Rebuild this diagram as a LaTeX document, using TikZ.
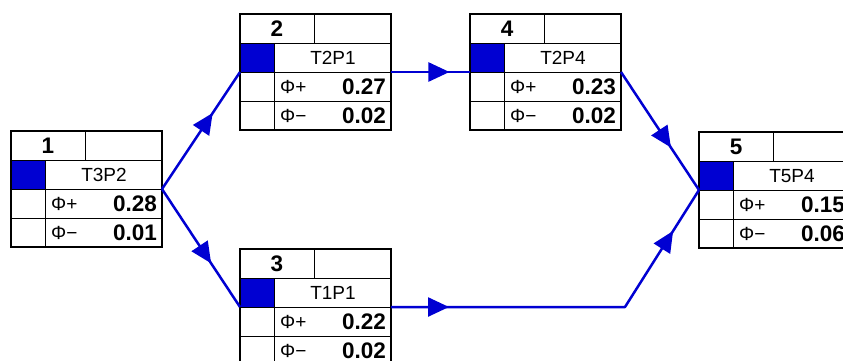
\documentclass[tikz,border=0pt]{standalone}
\usepackage{fontspec}
\setmainfont{Liberation Sans}
\usetikzlibrary{arrows.meta,decorations.markings}
\definecolor{flowblue}{RGB}{0,0,210}
\tikzset{
  taskframe/.style={draw=black, fill=white, line width=1.2pt, minimum width=151pt, minimum height=116pt, inner sep=0pt, outer sep=0pt},
  gridline/.style={draw=black, line width=0.9pt},
  numtext/.style={font=\fontsize{22.5}{22.5}\selectfont\bfseries, inner sep=0pt},
  labtext/.style={font=\fontsize{19}{19}\selectfont, inner sep=0pt},
  flow/.style={draw=flowblue, line width=2.5pt, line join=round},
  tipat/.style={postaction={decorate}, decoration={markings, mark=at position #1 with {\arrow[flowblue]{Triangle[length=21pt,width=19pt]}}}},
}
\newcommand\taskbox[7]{%
  \begin{scope}[shift={(#2,#3)}]
    \node[taskframe, anchor=north west] (#1) at (0,0) {};
    \fill[flowblue] (0,29) rectangle (34,58);
    \draw[gridline] (0,29) -- (151,29) (0,58) -- (151,58) (0,87) -- (151,87)
      (74,0) -- (74,29) (34,29) -- (34,116);
    \draw[black, line width=1.2pt] (#1.north west) rectangle (#1.south east);
    \node[numtext, anchor=base] (#1-num) at (37,22.6) {#4};
    \node[labtext, anchor=base] (#1-lab) at (93,50.3) {#5};
    \node[labtext, anchor=base west] (#1-pl) at (40,79.3) {Φ+};
    \node[numtext, anchor=base east] (#1-pv) at (146,80.6) {#6};
    \node[labtext, anchor=base west] (#1-ml) at (40,108.3) {Φ−};
    \node[numtext, anchor=base east] (#1-mv) at (146,109.6) {#7};
  \end{scope}}
\begin{document}
\begin{tikzpicture}[x=1pt,y=-1pt]
  \useasboundingbox (0,0) rectangle (843,360);
  \clip (0,0) rectangle (843,360);
  \fill[white] (0,0) rectangle (843,360);
  \taskbox{n1}{11}{131}{1}{T3P2}{0.28}{0.01}
  \taskbox{n2}{240}{14}{2}{T2P1}{0.27}{0.02}
  \taskbox{n3}{240}{249}{3}{T1P1}{0.22}{0.02}
  \taskbox{n4}{470}{14}{4}{T2P4}{0.23}{0.02}
  \taskbox{n5}{699}{132}{5}{T5P4}{0.15}{0.06}
  \coordinate (bend) at (625,307);
  \draw[flow, tipat=0.65] (n1.east) -- (n2.west);
  \draw[flow, tipat=0.63] (n1.east) -- (n3.west);
  \draw[flow, tipat=0.74] (n2.east) -- (n4.west);
  \draw[flow, tipat=0.64] (n4.east) -- (n5.west);
  \draw[flow, postaction={decorate}, decoration={markings,
      mark=at position 58pt with {\arrow[flowblue]{Triangle[length=21pt,width=19pt]}},
      mark=at position 0.87 with {\arrow[flowblue]{Triangle[length=21pt,width=19pt]}}}]
    (n3.east) -- (bend) -- (n5.west);
\end{tikzpicture}
\end{document}
